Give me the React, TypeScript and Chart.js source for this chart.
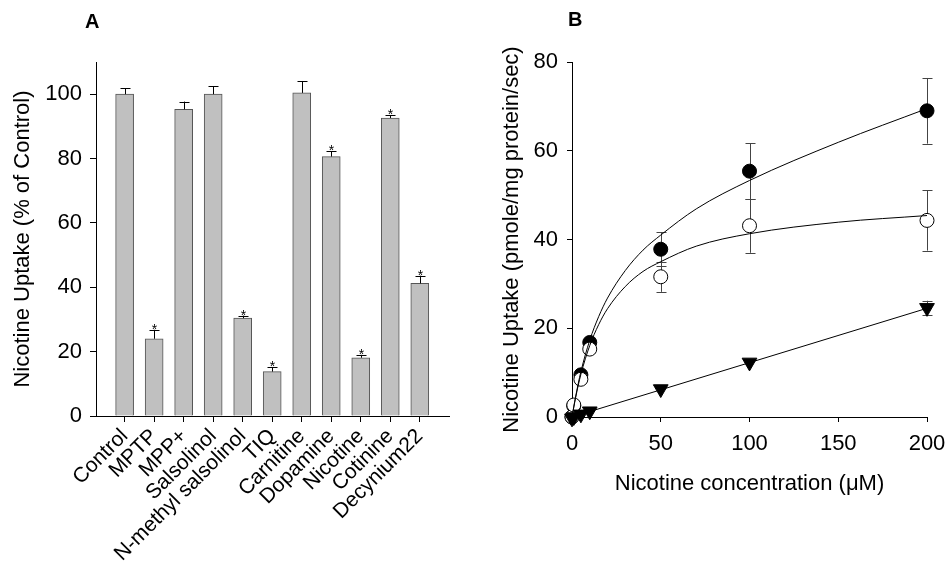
import React, { useEffect, useRef } from "react";
import { Chart, registerables } from "chart.js";

Chart.register(...registerables);

// ---------- Panel A data ----------
const categories = [
  "Control",
  "MPTP",
  "MPP+",
  "Salsolinol",
  "N-methyl salsolinol",
  "TIQ",
  "Carnitine",
  "Dopamine",
  "Nicotine",
  "Cotinine",
  "Decynium22",
];
const uptakePct = [100, 24.0, 95.3, 100, 30.4, 13.8, 100.4, 80.6, 18.1, 92.6, 41.2];
const uptakePctErr = [1.8, 2.8, 2.4, 2.5, 0.8, 1.3, 3.7, 1.7, 0.9, 0.9, 2.4];
const significant = [false, true, false, false, true, true, false, true, true, true, true];
const yTicksA = [0, 20, 40, 60, 80, 100];

// ---------- Panel B data ----------
const concB = [0, 1, 5, 10, 50, 100, 200];
const filledUptake = [0, 2.5, 9.5, 16.8, 37.8, 55.4, 69.0];
const filledErr = [0, 0, 0, 0, 3.8, 6.3, 7.4];
const openUptake = [0, 2.7, 8.5, 15.3, 31.6, 43.1, 44.3];
const openErr = [0, 0, 0, 0, 3.4, 6.1, 6.8];
const triUptake = [-0.3, 0, 0.6, 1.3, 6.3, 12.3, 24.6];
const triErr = [0, 0, 0, 0, 0, 0, 1.6];

// fitted curves
const fitX = [0, 2, 5, 10, 15, 20, 30, 40, 50, 70, 100, 150, 200];
const fitFilled = [0, 4.5, 10.2, 17.3, 22.6, 26.8, 33.0, 37.6, 41.0, 46.9, 53.3, 61.9, 69.5];
const fitOpen = [0, 4.3, 9.6, 16.1, 20.8, 24.4, 29.4, 32.8, 35.0, 38.5, 41.3, 43.9, 45.4];
const fitTriX = [0, 200];
const fitTri = [0, 24.5];
const xTicksB = [0, 50, 100, 150, 200];
const yTicksB = [0, 20, 40, 60, 80];

const FONT = "'Liberation Sans', Arial, Helvetica, sans-serif";

function drawErrors(chart: any, phase: string) {
  const ctx = chart.ctx;
  chart.data.datasets.forEach((ds: any, i: number) => {
    if (!ds.errors || ds.errorPhase !== phase) return;
    const meta = chart.getDatasetMeta(i);
    const ys = chart.scales[meta.yAxisID];
    ctx.save();
    ctx.strokeStyle = ds.errorColor || "#000";
    ctx.lineWidth = 1;
    meta.data.forEach((el: any, j: number) => {
      const e = ds.errors[j];
      const raw = ds.data[j];
      const v = typeof raw === "object" ? raw.y : raw;
      const x = Math.round(el.x) + 0.5;
      const yTop = ys.getPixelForValue(v + (e || 0));
      if (e) {
        const yBot = ds.errorMode === "up" ? ys.getPixelForValue(v) : ys.getPixelForValue(v - e);
        const cap = ds.capHalf || 5;
        ctx.beginPath();
        ctx.moveTo(x, yTop);
        ctx.lineTo(x, yBot);
        ctx.moveTo(x - cap, Math.round(yTop) + 0.5);
        ctx.lineTo(x + cap, Math.round(yTop) + 0.5);
        if (ds.errorMode !== "up") {
          ctx.moveTo(x - cap, Math.round(yBot) + 0.5);
          ctx.lineTo(x + cap, Math.round(yBot) + 0.5);
        }
        ctx.stroke();
      }
      if (ds.stars && ds.stars[j]) {
        ctx.fillStyle = "#000";
        ctx.font = `14px ${FONT}`;
        ctx.textAlign = "center";
        ctx.textBaseline = "alphabetic";
        ctx.fillText("*", x, yTop + 4);
      }
    });
    ctx.restore();
  });
}

const errorBarPlugin = {
  id: "errbars",
  beforeDatasetsDraw(chart: any) {
    drawErrors(chart, "before");
  },
  afterDatasetsDraw(chart: any) {
    drawErrors(chart, "after");
  },
};

const axisCommon = (tickLen: number) => ({
  grid: {
    display: true,
    drawOnChartArea: false,
    drawTicks: true,
    tickLength: tickLen,
    color: "#000",
    tickColor: "#000",
    offset: false,
  },
  border: { display: true, color: "#000", width: 1 },
});

const fixX = (h: number) => (s: any) => {
  s.height = h;
  s.paddingLeft = 0;
  s.paddingRight = 0;
};
const fixY = (w: number) => (s: any) => {
  s.width = w;
  s.paddingTop = 0;
  s.paddingBottom = 0;
};

export default function App() {
  const refA = useRef<HTMLCanvasElement>(null);
  const refB = useRef<HTMLCanvasElement>(null);

  useEffect(() => {
    Chart.defaults.font.family = FONT;
    Chart.defaults.font.size = 22;
    Chart.defaults.color = "#000";

    const chartA = new Chart(refA.current!, {
      type: "bar",
      data: {
        datasets: [
          {
            data: uptakePct.map((v, i) => ({ x: i, y: v })),
            backgroundColor: "#c0c0c0",
            borderColor: "#555",
            borderWidth: 1,
            barThickness: 18,
            errors: uptakePctErr,
            errorMode: "up",
            errorPhase: "after",
            errorColor: "#000",
            capHalf: 5,
            stars: significant,
          } as any,
        ],
      },
      options: {
        animation: false,
        responsive: false,
        devicePixelRatio: 1,
        layout: { padding: { left: 0, top: 62, right: 26, bottom: 0 } },
        plugins: { legend: { display: false }, tooltip: { enabled: false } },
        scales: {
          x: {
            type: "linear",
            min: -0.97,
            max: 10.99,
            offset: false,
            ...axisCommon(6),
            afterBuildTicks: (s: any) => {
              s.ticks = categories.map((_, i) => ({ value: i }));
            },
            afterFit: fixX(146),
            ticks: {
              autoSkip: false,
              minRotation: 45,
              maxRotation: 45,
              padding: 2,
              font: { size: 21 },
              callback: (v: any) => categories[v] ?? "",
            },
          },
          y: {
            type: "linear",
            min: 0,
            max: 110,
            ...axisCommon(6),
            afterBuildTicks: (s: any) => {
              s.ticks = yTicksA.map((v) => ({ value: v }));
            },
            afterFit: fixY(96),
            ticks: { padding: 8, font: { size: 22 } },
            title: {
              display: true,
              text: "Nicotine Uptake (% of Control)",
              font: { size: 22 },
              padding: { top: 10, bottom: 0 },
            },
          },
        },
      } as any,
      plugins: [errorBarPlugin],
    });

    const markerDs = (ys: number[], errs: number[], style: any) => ({
      type: "line",
      data: concB.map((x, i) => ({ x, y: ys[i] })),
      showLine: false,
      clip: false,
      errors: errs,
      errorMode: "both",
      errorPhase: "before",
      errorColor: "#444",
      capHalf: 5,
      ...style,
    });
    const curveDs = (xs: number[], ys: number[]) => ({
      type: "line",
      data: xs.map((x, i) => ({ x, y: ys[i] })),
      borderColor: "#000",
      borderWidth: 1,
      pointRadius: 0,
      cubicInterpolationMode: "monotone",
      clip: false,
    });

    const chartB = new Chart(refB.current!, {
      type: "line",
      data: {
        datasets: [
          curveDs(fitX, fitFilled),
          curveDs(fitX, fitOpen),
          curveDs(fitTriX, fitTri),
          markerDs(triUptake, triErr, {
            pointStyle: "triangle",
            rotation: 180,
            pointRadius: 8.5,
            backgroundColor: "#000",
            borderColor: "#000",
            borderWidth: 1,
          }),
          markerDs(openUptake, openErr, {
            pointStyle: "circle",
            pointRadius: 7,
            backgroundColor: "#fff",
            borderColor: "#000",
            borderWidth: 1,
          }),
          markerDs(filledUptake, filledErr, {
            pointStyle: "circle",
            pointRadius: 7,
            backgroundColor: "#000",
            borderColor: "#000",
            borderWidth: 1,
          }),
        ] as any,
      },
      options: {
        animation: false,
        responsive: false,
        devicePixelRatio: 1,
        layout: { padding: { left: 0, top: 62, right: 24, bottom: 0 } },
        plugins: { legend: { display: false }, tooltip: { enabled: false } },
        scales: {
          x: {
            type: "linear",
            min: 0,
            max: 200,
            ...axisCommon(5),
            afterBuildTicks: (s: any) => {
              s.ticks = xTicksB.map((v) => ({ value: v }));
            },
            afterFit: fixX(145),
            ticks: { padding: 9, font: { size: 22 } },
            title: {
              display: true,
              text: "Nicotine concentration (\u03BCM)",
              font: { size: 22 },
              padding: { top: 0, bottom: 65 },
            },
          },
          y: {
            type: "linear",
            min: 0,
            max: 80,
            ...axisCommon(5),
            afterBuildTicks: (s: any) => {
              s.ticks = yTicksB.map((v) => ({ value: v }));
            },
            afterFit: fixY(97),
            ticks: { padding: 9, font: { size: 22 } },
            title: {
              display: true,
              text: "Nicotine Uptake (pmole/mg protein/sec)",
              font: { size: 22 },
              padding: { top: 24, bottom: 0 },
            },
          },
        },
      } as any,
      plugins: [errorBarPlugin],
    });

    return () => {
      chartA.destroy();
      chartB.destroy();
    };
  }, []);

  const labelStyle: React.CSSProperties = {
    position: "absolute",
    fontFamily: FONT,
    fontWeight: "bold",
    fontSize: 20,
    lineHeight: "20px",
  };

  return (
    <div style={{ position: "absolute", left: 0, top: 0, width: 951, height: 562, background: "#fff" }}>
      <canvas
        ref={refA}
        width={475}
        height={562}
        style={{ position: "absolute", left: 0, top: 0, width: 475, height: 562 }}
      />
      <canvas
        ref={refB}
        width={476}
        height={562}
        style={{ position: "absolute", left: 475, top: 0, width: 476, height: 562 }}
      />
      <div style={{ ...labelStyle, left: 85, top: 11 }}>A</div>
      <div style={{ ...labelStyle, left: 568, top: 9 }}>B</div>
    </div>
  );
}
